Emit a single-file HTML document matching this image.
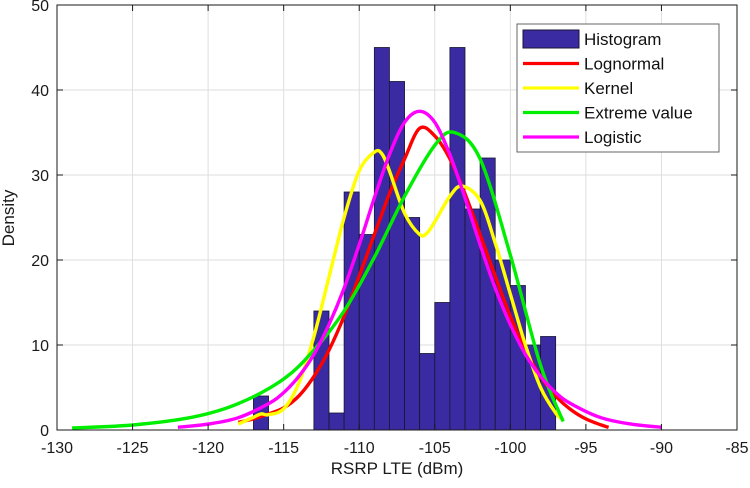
<!DOCTYPE html>
<html><head><meta charset="utf-8"><style>
body{margin:0;background:#fff}
text{font-family:"Liberation Sans",sans-serif}
</style></head><body>
<svg id="c" width="750" height="483"></svg>
<script>
const binStarts=[-117,-113,-112,-111,-110,-109,-108,-107,-106,-105,-104,-103,-102,-101,-100,-99,-98];
const binCounts=[4,14,2,28,23,45,41,25,9,15,45,26,32,20,17,10,11];
const xTicks=[-130,-125,-120,-115,-110,-105,-100,-95,-90,-85];
const yTicks=[0,10,20,30,40,50];
const lognX=[-118,-117,-116,-115,-114,-113,-112,-111,-110,-109,-108,-107,-106,-105,-104,-103,-102,-101,-100,-99,-98,-97,-96,-95,-94,-93.5];
const lognY=[0.9,1.3,1.9,2.6,4.0,6.3,9.4,13.4,18.1,23.0,27.8,31.9,35.5,34.6,31.9,27.8,23.0,18.1,13.4,9.4,6.3,4.0,2.4,1.3,0.6,0.3];
const kernX=[-118,-117,-116.5,-116,-115,-114,-113,-112,-111,-110,-109,-108.5,-108,-107,-106,-105.5,-105,-104,-103.2,-102,-101,-100,-99,-98,-97,-96.5];
const kernY=[0.7,1.5,1.9,1.8,2.5,5.5,11,18,25,30.5,32.7,32.5,30.5,25.5,23,23.2,24.5,27.5,28.7,27,22,16,10,5,2,1.2];
const evX=[-129,-125,-121,-118,-115,-113,-111,-109,-107,-105,-103.7,-102,-100,-98,-96.5];
const evY=[0.23,0.59,1.52,3.1,6.0,9.4,14.0,20.3,27.5,33.5,35,31.9,20.6,7.6,1.0];
const logiX=[-122,-120,-118,-116,-115,-114,-113,-112,-111,-110,-109,-108,-107,-106,-105,-104,-103,-102,-101,-100,-99,-98,-97,-96,-94,-92,-90];
const logiY=[0.32,0.69,1.45,3.1,4.4,6.3,8.9,12.4,16.7,21.8,27.3,32.4,36.2,37.5,36.2,32.4,27.3,21.8,16.7,12.4,8.9,6.3,4.4,3.1,1.45,0.69,0.32];
const series=[["lognormal","#ff0000",lognX,lognY],["kernel","#ffff00",kernX,kernY],["extreme-value","#00ee00",evX,evY],["logistic","#ff00ff",logiX,logiY]];
const legendLabels=["Histogram","Lognormal","Kernel","Extreme value","Logistic"];

const X0=57,X1=737,Y0=430,Y1=5;
const sx=v=>X0+(v+130)/45*(X1-X0);
const sy=v=>Y0-v/50*(Y0-Y1);
const svg=document.getElementById('c');
const NS='http://www.w3.org/2000/svg';
function mk(t,a,p){const e=document.createElementNS(NS,t);for(const k in a)e.setAttribute(k,a[k]);(p||svg).appendChild(e);return e;}
function smooth(pts){
  let d='M'+pts[0][0].toFixed(1)+','+pts[0][1].toFixed(1);
  for(let i=0;i<pts.length-1;i++){
    const p0=pts[i-1]||pts[i],p1=pts[i],p2=pts[i+1],p3=pts[i+2]||p2;
    const c1=[p1[0]+(p2[0]-p0[0])/6,p1[1]+(p2[1]-p0[1])/6];
    const c2=[p2[0]-(p3[0]-p1[0])/6,p2[1]-(p3[1]-p1[1])/6];
    d+='C'+c1.map(v=>v.toFixed(1)).join(',')+' '+c2.map(v=>v.toFixed(1)).join(',')+' '+p2.map(v=>v.toFixed(1)).join(',');
  }
  return d;
}
mk('rect',{x:X0,y:Y1,width:X1-X0,height:Y0-Y1,fill:'#fff'});
xTicks.forEach(t=>{
  const l=mk('line',{x1:sx(t),x2:sx(t),y1:Y1,y2:Y0,stroke:'#dedede','stroke-width':1});
  
  
  const tx=mk('text',{x:sx(t),y:Y0+23,'text-anchor':'middle','font-size':16,fill:'#1a1a1a'});
  tx.textContent=t;
  
  
});
yTicks.forEach(t=>{
  const l=mk('line',{x1:X0,x2:X1,y1:sy(t),y2:sy(t),stroke:'#dedede','stroke-width':1});
  
  
  const tx=mk('text',{x:X0-8,y:sy(t)+6,'text-anchor':'end','font-size':16,fill:'#1a1a1a'});
  tx.textContent=t;
  
  
});
binStarts.forEach((b,i)=>{
  const r=mk('rect',{x:sx(b),y:sy(binCounts[i]),width:sx(b+1)-sx(b),height:sy(0)-sy(binCounts[i]),fill:'#3b2ba3',stroke:'#161630','stroke-width':0.8});
  
  
});
series.forEach(s=>{
  const pts=s[2].map((x,i)=>[sx(x),sy(s[3][i])]);
  const p=mk('path',{d:smooth(pts),fill:'none',stroke:s[1],'stroke-width':3.4,'stroke-linejoin':'round'});
  
  
});
mk('rect',{x:X0,y:Y1,width:X1-X0,height:Y0-Y1,fill:'none',stroke:'#1a1a1a','stroke-width':1});
xTicks.forEach(t=>{mk('line',{x1:sx(t),x2:sx(t),y1:Y0,y2:Y0-6,stroke:'#1a1a1a'});mk('line',{x1:sx(t),x2:sx(t),y1:Y1,y2:Y1+6,stroke:'#1a1a1a'});});
yTicks.forEach(t=>{mk('line',{x1:X0,x2:X0+6,y1:sy(t),y2:sy(t),stroke:'#1a1a1a'});mk('line',{x1:X1,x2:X1-6,y1:sy(t),y2:sy(t),stroke:'#1a1a1a'});});
// legend
const lg=mk('g',{});


mk('rect',{x:517,y:24,width:202,height:128,fill:'#fff',stroke:'#666','stroke-width':1},lg);
const colors=['#3b2ba3','#ff0000','#ffff00','#00ee00','#ff00ff'];
legendLabels.forEach((lab,i)=>{
  const y=39+i*24.5;
  if(i===0){mk('rect',{x:523,y:y-9,width:56,height:18,fill:colors[0],stroke:'#161630'},lg);}
  else mk('line',{x1:523,x2:579,y1:y,y2:y,stroke:colors[i],'stroke-width':3.2},lg);
  const t=mk('text',{x:584,y:y+6,'font-size':17,fill:'#111'},lg);
  t.textContent=lab;
  
  
});
const xl=mk('text',{x:397,y:474,'text-anchor':'middle','font-size':17,fill:'#1a1a1a'});
xl.textContent='RSRP LTE (dBm)';


const yl=mk('text',{x:0,y:0,'text-anchor':'middle','font-size':17,fill:'#1a1a1a',transform:'translate(14,218) rotate(-90)'});
yl.textContent='Density';


</script>
</body></html>
